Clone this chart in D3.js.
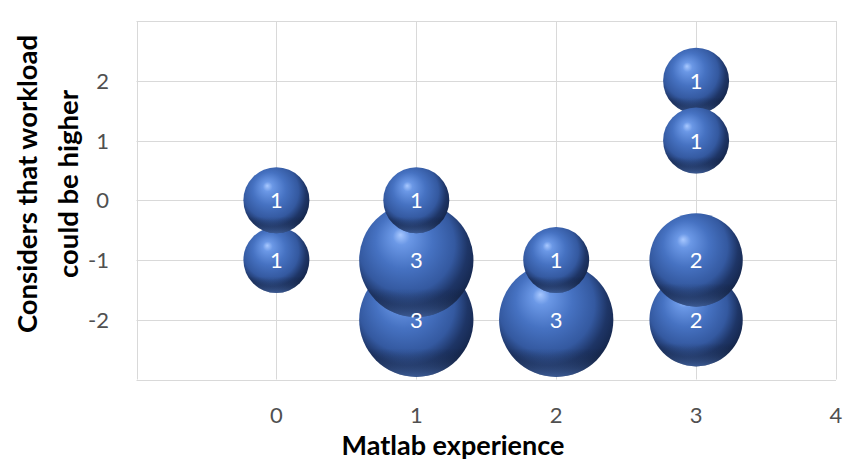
<!DOCTYPE html>
<html><head><meta charset="utf-8">
<script src="https://cdn.jsdelivr.net/npm/d3@7"></script>
<style>body{margin:0;background:#fff}svg{display:block}</style>
</head><body>
<script>
// Data (drawing order as in reference)
const xValues = [0, 0, 1, 1, 1, 2, 2, 3, 3, 3, 3];
const yValues = [-1, 0, -2, -1, 0, -2, -1, -2, -1, 2, 1];
const sizes   = [1, 1, 3, 3, 1, 3, 1, 2, 2, 1, 1];
const xTicks = [0, 1, 2, 3, 4];
const yTicks = [-2, -1, 0, 1, 2];
const xTitle = "Matlab experience";
const yTitleLines = ["Considers that workload", "could be higher"];

const W = 843, H = 461;
const svg = d3.select("body").append("svg").attr("width", W).attr("height", H);
const x = d3.scaleLinear().domain([-1, 4]).range([136.5, 836]);
const y = d3.scaleLinear().domain([-3, 3]).range([379.5, 21]);
const r = d3.scaleSqrt().domain([0, 1]).range([0, 33]);

const defs = svg.append("defs");
const g = defs.append("radialGradient").attr("id", "sphere")
  .attr("cx", "0.44").attr("cy", "0.4").attr("r", "0.62")
  .attr("fx", "0.36").attr("fy", "0.28");
[["0%", "#a8c8ff"], ["12%", "#6b98e6"], ["40%", "#4672c2"], ["68%", "#3459a0"], ["84%", "#1e3566"], ["100%", "#14254a"]]
  .forEach(([o, c]) => g.append("stop").attr("offset", o).attr("stop-color", c));
const g2 = defs.append("linearGradient").attr("id", "rim").attr("x1", 0).attr("y1", 0).attr("x2", 0).attr("y2", 1);
[["0%", "#000", 0], ["75%", "#000", 0], ["100%", "#6a98e8", 0.45]]
  .forEach(([o, c, a]) => g2.append("stop").attr("offset", o).attr("stop-color", c).attr("stop-opacity", a));

// grid
const grid = svg.append("g").attr("stroke", "#d9d9d9").attr("stroke-width", 1).attr("fill", "none");
[-3, -2, -1, 0, 1, 2, 3].forEach(v => grid.append("line").attr("x1", x(-1)).attr("x2", x(4)).attr("y1", Math.round(y(v)) + 0.5).attr("y2", Math.round(y(v)) + 0.5));
[-1, 0, 1, 2, 3, 4].forEach(v => grid.append("line").attr("y1", y(3)).attr("y2", y(-3)).attr("x1", Math.round(x(v)) + 0.5).attr("x2", Math.round(x(v)) + 0.5));

const font = "Lato, 'Open Sans', sans-serif";
// tick labels
svg.append("g").selectAll("text").data(xTicks).join("text")
  .attr("x", d => x(d)).attr("y", 423).attr("text-anchor", "middle")
  .attr("font-family", font).attr("font-size", 22).attr("fill", "#505050").text(d => d);
svg.append("g").selectAll("text").data(yTicks).join("text")
  .attr("x", 109).attr("y", d => y(d) + 8).attr("text-anchor", "end")
  .attr("font-family", font).attr("font-size", 22).attr("fill", "#505050").text(d => d);

// bubbles
const pts = xValues.map((v, i) => ({x: v, y: yValues[i], s: sizes[i]}));
const bg = svg.append("g");
pts.forEach(p => {
  bg.append("circle").attr("cx", x(p.x)).attr("cy", y(p.y)).attr("r", r(p.s)).attr("fill", "url(#sphere)");
  bg.append("circle").attr("cx", x(p.x)).attr("cy", y(p.y)).attr("r", r(p.s)).attr("fill", "url(#rim)");
});
svg.append("g").selectAll("text").data(pts).join("text")
  .attr("x", p => x(p.x)).attr("y", p => y(p.y) + 8).attr("text-anchor", "middle")
  .attr("font-family", font).attr("font-size", 22).attr("fill", "#fff").text(p => p.s);

// titles
svg.append("text").attr("x", 453).attr("y", 455).attr("text-anchor", "middle")
  .attr("font-family", font).attr("font-weight", "bold").attr("font-size", 27).attr("fill", "#000").text(xTitle);
const yt = svg.append("text").attr("transform", "translate(0,184) rotate(-90)").attr("text-anchor", "middle")
  .attr("font-family", font).attr("font-weight", "bold").attr("font-size", 27.5).attr("fill", "#000");
yTitleLines.forEach((t, i) => yt.append("tspan").attr("x", 0).attr("y", 37 + i * 41).text(t));
</script>
</body></html>
